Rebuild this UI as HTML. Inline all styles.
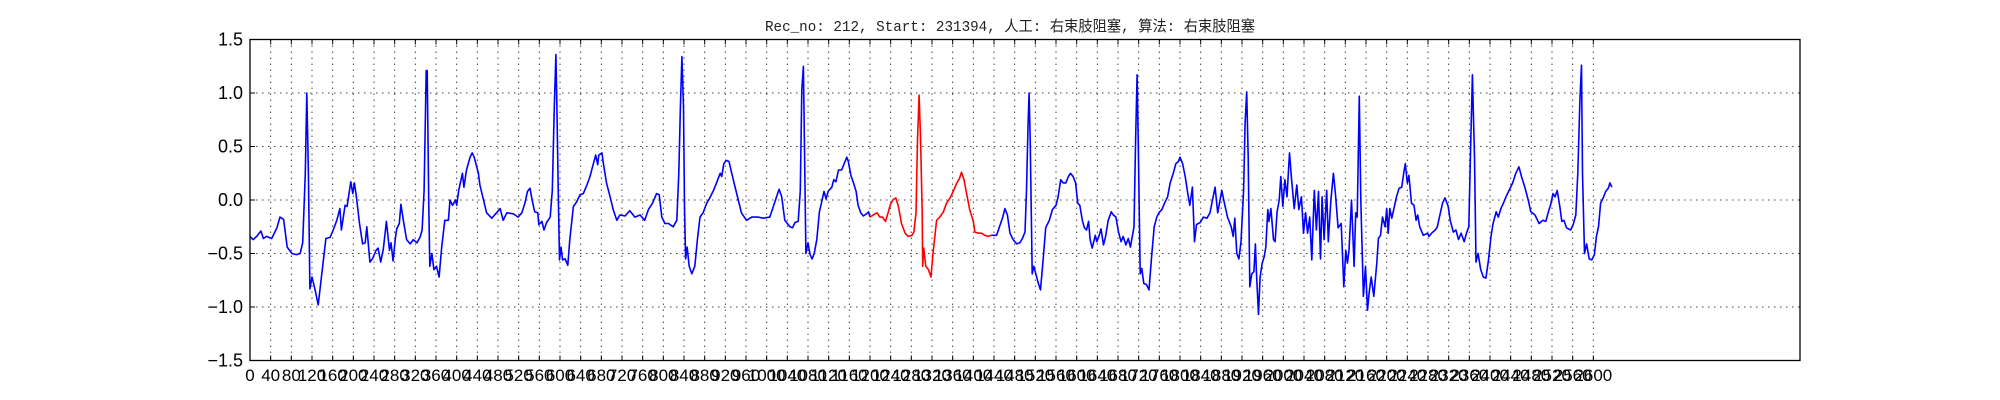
<!DOCTYPE html>
<html><head><meta charset="utf-8"><style>
body{margin:0;background:#fff;}
svg{display:block;}
</style></head><body>
<svg id="chart" width="2000" height="400" xmlns="http://www.w3.org/2000/svg">
<rect x="0" y="0" width="2000" height="400" fill="#fff"/>
<text x="1010" y="31" text-anchor="middle" font-family="'Liberation Mono','Noto Sans CJK SC',monospace" font-size="15" fill="#222" textLength="490" lengthAdjust="spacingAndGlyphs">Rec_no: 212, Start: 231394, 人工: 右束肢阻塞, 算法: 右束肢阻塞</text>
<g id="grid"></g>
<g id="series"></g>
<rect x="250" y="39.5" width="1550" height="321" fill="none" stroke="#000" stroke-width="1.3"/>
<g id="ticks"></g>
</svg>
<script>
const samples = [0,6,13,21,26,32,42,52,58,65,72,81,90,97,102,107,110,113,116,120,126,132,139,147,155,161,168,174,177,184,188,195,199,202,206,212,218,223,226,232,237,244,248,253,258,264,270,273,277,281,284,289,292,297,303,310,316,323,329,333,337,341,343,346,348,352,356,361,366,371,377,384,387,392,398,400,404,411,414,419,426,430,434,442,445,452,458,468,477,484,490,497,510,519,526,532,537,542,546,551,557,559,565,569,574,581,585,589,592,594,597,599,602,605,610,615,619,626,632,639,645,652,658,664,669,673,675,681,684,690,697,703,710,716,726,735,745,755,764,771,779,787,792,797,803,810,819,826,830,833,836,839,841,843,846,850,855,861,866,871,877,884,890,897,903,910,913,917,922,927,932,939,945,951,961,971,984,993,1006,1013,1017,1024,1029,1035,1045,1050,1055,1061,1065,1068,1071,1076,1080,1084,1088,1092,1097,1102,1106,1111,1115,1119,1126,1130,1134,1139,1145,1150,1155,1158,1163,1168,1173,1177,1182,1187,1193,1197,1200,1206,1214,1219,1224,1230,1235,1239,1244,1250,1255,1261,1268,1274,1281,1285,1289,1292,1295,1298,1301,1302,1304,1308,1313,1318,1322,1329,1335,1342,1348,1355,1361,1368,1373,1377,1382,1387,1393,1400,1403,1410,1416,1422,1429,1435,1445,1452,1457,1461,1466,1471,1477,1484,1490,1495,1500,1503,1506,1508,1510,1512,1514,1517,1521,1526,1530,1535,1540,1547,1553,1560,1564,1569,1574,1579,1584,1588,1593,1598,1602,1606,1611,1615,1619,1623,1626,1630,1636,1639,1643,1647,1652,1656,1661,1667,1671,1676,1681,1686,1690,1695,1700,1704,1708,1711,1714,1717,1719,1723,1726,1730,1735,1740,1745,1750,1755,1759,1765,1770,1776,1781,1787,1792,1797,1800,1805,1810,1815,1819,1824,1828,1832,1839,1845,1852,1858,1863,1868,1873,1881,1886,1892,1899,1903,1906,1910,1914,1918,1923,1926,1929,1932,1935,1939,1943,1946,1948,1952,1955,1959,1963,1966,1970,1972,1976,1981,1984,1988,1992,1995,1999,2003,2007,2012,2016,2021,2026,2030,2035,2039,2043,2047,2051,2055,2060,2064,2068,2072,2075,2079,2084,2087,2092,2097,2101,2106,2112,2117,2121,2124,2127,2132,2137,2140,2143,2147,2150,2155,2159,2163,2166,2170,2175,2181,2184,2188,2192,2197,2200,2203,2206,2210,2215,2219,2224,2229,2233,2236,2240,2243,2248,2253,2257,2260,2264,2271,2279,2282,2287,2294,2298,2303,2308,2313,2319,2323,2329,2334,2339,2344,2350,2355,2359,2362,2366,2370,2373,2377,2382,2387,2392,2397,2402,2406,2412,2416,2421,2426,2431,2437,2444,2450,2456,2461,2468,2474,2479,2487,2495,2502,2508,2513,2517,2522,2526,2530,2535,2539,2543,2548,2556,2561,2566,2570,2574,2577,2579,2583,2587,2592,2597,2602,2606,2610,2614,2619,2624,2629,2632,2636];
const values = [-0.34,-0.37,-0.34,-0.29,-0.36,-0.34,-0.36,-0.26,-0.16,-0.18,-0.44,-0.50,-0.51,-0.50,-0.40,0.25,1.00,0.25,-0.83,-0.72,-0.84,-0.98,-0.69,-0.36,-0.35,-0.28,-0.19,-0.08,-0.28,-0.05,-0.06,0.17,0.06,0.16,0.03,-0.22,-0.41,-0.40,-0.25,-0.58,-0.55,-0.47,-0.45,-0.58,-0.46,-0.20,-0.47,-0.40,-0.57,-0.37,-0.27,-0.22,-0.04,-0.20,-0.37,-0.41,-0.37,-0.40,-0.35,-0.28,0.09,1.21,1.21,-0.06,-0.62,-0.50,-0.65,-0.62,-0.72,-0.44,-0.19,-0.19,0.00,-0.05,0.00,-0.05,0.09,0.25,0.12,0.28,0.40,0.44,0.40,0.25,0.14,0.00,-0.12,-0.17,-0.12,-0.08,-0.19,-0.12,-0.13,-0.16,-0.12,-0.03,0.08,0.11,0.00,-0.11,-0.12,-0.23,-0.20,-0.28,-0.21,-0.16,0.09,0.87,1.36,0.87,-0.06,-0.56,-0.44,-0.56,-0.55,-0.61,-0.37,-0.06,-0.02,0.05,0.06,0.14,0.22,0.33,0.42,0.33,0.42,0.44,0.34,0.16,0.03,-0.09,-0.19,-0.14,-0.15,-0.10,-0.16,-0.14,-0.19,-0.09,-0.03,0.06,0.05,-0.16,-0.22,-0.22,-0.25,-0.19,0.25,0.87,1.34,0.87,-0.06,-0.55,-0.44,-0.62,-0.69,-0.62,-0.37,-0.16,-0.12,-0.03,0.02,0.09,0.16,0.25,0.22,0.34,0.37,0.36,0.26,0.12,0.00,-0.12,-0.19,-0.16,-0.16,-0.17,-0.16,-0.06,0.00,0.10,0.03,-0.19,-0.25,-0.26,-0.21,-0.20,0.09,1.03,1.25,-0.50,-0.40,-0.51,-0.55,-0.50,-0.37,-0.11,-0.03,0.08,0.01,0.08,0.12,0.19,0.17,0.28,0.28,0.34,0.40,0.36,0.23,0.16,0.08,-0.05,-0.12,-0.15,-0.13,-0.11,-0.16,-0.14,-0.12,-0.16,-0.16,-0.20,-0.12,-0.05,0.00,0.02,-0.06,-0.22,-0.31,-0.34,-0.33,-0.30,-0.12,0.56,0.98,0.56,-0.12,-0.62,-0.45,-0.62,-0.65,-0.72,-0.50,-0.19,-0.16,-0.11,-0.03,0.02,0.08,0.16,0.20,0.26,0.19,0.06,-0.09,-0.20,-0.30,-0.31,-0.31,-0.33,-0.34,-0.33,-0.33,-0.23,-0.16,-0.08,-0.14,-0.31,-0.37,-0.41,-0.40,-0.36,-0.30,0.09,0.72,1.00,0.56,-0.06,-0.69,-0.62,-0.69,-0.78,-0.84,-0.56,-0.26,-0.19,-0.09,-0.05,0.03,0.19,0.16,0.16,0.22,0.25,0.22,0.16,-0.03,-0.05,-0.19,-0.26,-0.28,-0.20,-0.37,-0.45,-0.33,-0.39,-0.34,-0.27,-0.42,-0.34,-0.19,-0.11,-0.14,-0.16,-0.30,-0.39,-0.34,-0.42,-0.36,-0.44,-0.33,-0.25,0.56,1.17,0.56,-0.69,-0.64,-0.78,-0.79,-0.84,-0.53,-0.25,-0.16,-0.12,-0.09,-0.03,0.03,0.16,0.25,0.34,0.36,0.40,0.34,0.22,0.06,-0.05,0.12,-0.39,-0.23,-0.21,-0.16,-0.17,-0.12,0.00,0.12,-0.12,0.09,-0.03,-0.16,-0.25,-0.34,-0.17,-0.50,-0.55,-0.39,0.09,0.72,1.01,0.40,-0.81,-0.69,-0.67,-0.41,-0.69,-1.07,-0.72,-0.59,-0.53,-0.44,-0.09,-0.20,-0.08,-0.37,-0.39,-0.11,0.00,0.22,-0.06,0.19,0.03,0.44,0.19,-0.08,0.14,-0.09,0.03,-0.31,-0.12,-0.31,-0.16,-0.56,0.09,-0.28,0.08,-0.55,0.03,-0.37,0.09,-0.39,0.00,0.25,0.05,-0.26,-0.22,-0.81,-0.47,-0.59,-0.47,0.00,-0.62,-0.12,-0.16,0.97,0.00,-0.90,-0.62,-1.03,-0.87,-0.72,-0.90,-0.59,-0.36,-0.33,-0.16,-0.25,-0.08,-0.31,-0.08,-0.17,-0.06,0.03,0.11,0.12,0.25,0.34,0.16,0.23,-0.03,-0.05,-0.19,-0.14,-0.25,-0.33,-0.31,-0.34,-0.31,-0.28,-0.25,-0.14,-0.03,0.02,-0.06,-0.19,-0.30,-0.28,-0.37,-0.31,-0.39,-0.30,-0.25,0.40,1.17,0.40,-0.58,-0.50,-0.65,-0.72,-0.73,-0.56,-0.34,-0.22,-0.11,-0.16,-0.08,-0.03,0.03,0.09,0.16,0.25,0.31,0.22,0.11,0.00,-0.11,-0.14,-0.22,-0.19,-0.20,-0.11,-0.05,0.06,0.03,0.09,-0.06,-0.20,-0.19,-0.26,-0.28,-0.23,-0.14,0.25,0.93,1.26,0.25,-0.50,-0.41,-0.55,-0.56,-0.51,-0.34,-0.25,-0.03,0.02,0.08,0.11,0.16,0.12];
const highlightRange = [1200, 1435];
const xTicks = [];
for (let t = 0; t <= 2600; t += 40) xTicks.push(t);
const yTicks = [-1.5,-1.0,-0.5,0.0,0.5,1.0,1.5];
const yTickLabels = ["\u22121.5","\u22121.0","\u22120.5","0.0","0.5","1.0","1.5"];

const NS = "http://www.w3.org/2000/svg";
const X0 = 250, X1 = 1800, Y0 = 39.5, Y1 = 360.5;
const xMax = 3000, yMin = -1.5, yMax = 1.5;
const sx = v => X0 + v / xMax * (X1 - X0);
const sy = v => Y1 - (v - yMin) / (yMax - yMin) * (Y1 - Y0);

const grid = document.getElementById('grid');
const ticks = document.getElementById('ticks');
const series = document.getElementById('series');

function mk(tag, attrs, parent) {
  const e = document.createElementNS(NS, tag);
  for (const k in attrs) e.setAttribute(k, attrs[k]);
  parent.appendChild(e);
  return e;
}

xTicks.forEach(t => {
  const x = sx(t);
  const g = mk('line', {x1:x, x2:x, y1:Y0, y2:Y1, stroke:'#444', 'stroke-width':1, 'stroke-dasharray':'1.5,4.5'}, grid);
  
  
  const tk = mk('line', {x1:x, x2:x, y1:Y1, y2:Y1-5, stroke:'#000', 'stroke-width':1}, ticks);
  
  
  const tk2 = mk('line', {x1:x, x2:x, y1:Y0, y2:Y0+5, stroke:'#000', 'stroke-width':1}, ticks);
  
  
  const lb = mk('text', {x:x, y:381, 'text-anchor':'middle', 'font-family':"'Liberation Sans',sans-serif", 'font-size':17, fill:'#000'}, ticks);
  lb.textContent = String(t);
  
  
});
yTicks.forEach((t, i) => {
  const y = sy(t);
  const g = mk('line', {x1:X0, x2:X1, y1:y, y2:y, stroke:'#444', 'stroke-width':1, 'stroke-dasharray':'1.5,4.5'}, grid);
  
  
  const tk = mk('line', {x1:X0, x2:X0+5, y1:y, y2:y, stroke:'#000', 'stroke-width':1}, ticks);
  
  
  const lb = mk('text', {x:243, y:y+6, 'text-anchor':'end', 'font-family':"'Liberation Sans',sans-serif", 'font-size':18, fill:'#000'}, ticks);
  lb.textContent = yTickLabels[i];
  
  
});

function pts(filterFn) {
  const out = [];
  for (let i = 0; i < samples.length; i++) if (filterFn(samples[i])) out.push(sx(samples[i]).toFixed(1) + ',' + sy(values[i]).toFixed(1));
  return out.join(' ');
}
const [rs, re] = highlightRange;
const blue1 = mk('polyline', {points: pts(s => s <= rs), fill:'none', stroke:'#0000ff', 'stroke-width':1.6, 'stroke-linejoin':'round'}, series);


const red = mk('polyline', {points: pts(s => s >= rs && s <= re), fill:'none', stroke:'#ff0000', 'stroke-width':1.6, 'stroke-linejoin':'round'}, series);


const blue2 = mk('polyline', {points: pts(s => s >= re), fill:'none', stroke:'#0000ff', 'stroke-width':1.6, 'stroke-linejoin':'round'}, series);


</script>
</body></html>
